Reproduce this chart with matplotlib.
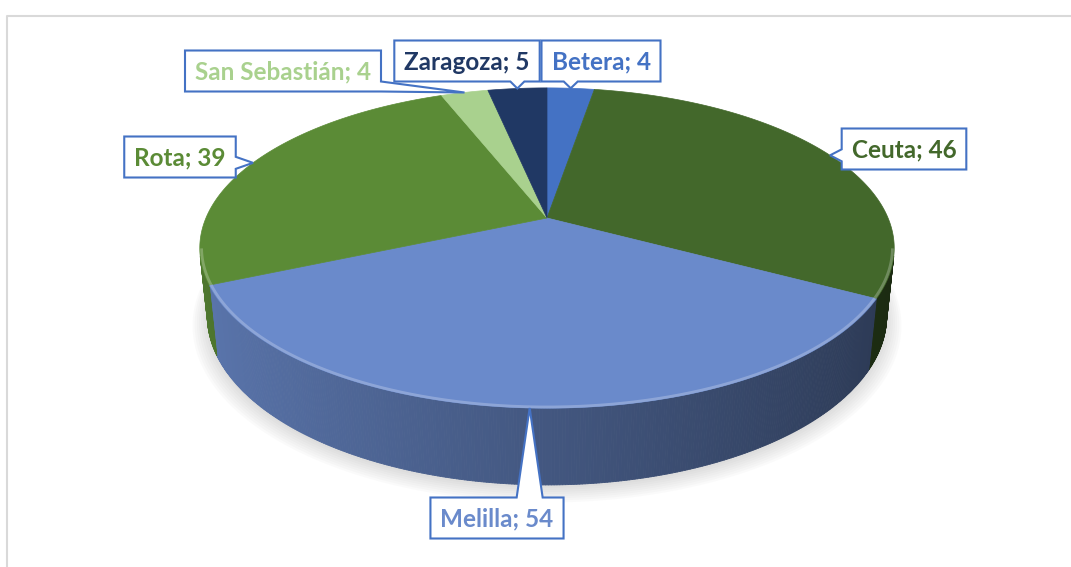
import numpy as np
import matplotlib.pyplot as plt
from matplotlib.patches import Polygon
from matplotlib.collections import PolyCollection
from matplotlib.colors import to_rgb

# data (clockwise from 12 o'clock)
locations = ['Betera', 'Ceuta', 'Melilla', 'Rota', 'San Sebastián', 'Zaragoza']
values = [4, 46, 54, 39, 4, 5]
slice_colors = ['#4472c4', '#43682b', '#6a8acb', '#5b8b36', '#a9d18e', '#203864']

# where the data-label boxes sit (pixel centres)
label_x = [601, 904, 497, 180, 283, 467]
label_y = [61, 149, 518, 157, 71, 61]
wedge_base = [14, 12, 26, 12, 10, 14]

W, H = 1071, 567
# 3D view of the pie: camera tilt, distance, focal length, centre, thickness
S, C = 0.453, 0.891
D, F = 4.75, 1620.0
CX, CY = 547.0, 218.0
THICK = 0.224
BORDER = '#4472c4'

fig = plt.figure(figsize=(W / 100, H / 100), dpi=100)
ax = fig.add_axes([0, 0, 1, 1])
ax.set_xlim(0, W)
ax.set_ylim(H, 0)
ax.axis('off')


def proj(theta, r=1.0, z=0.0):
    """project a point of the disc (angle clockwise from top) to pixels"""
    u = r * np.sin(theta)
    v = r * np.cos(theta)
    depth = D + v * C - z * S
    return CX + F * u / depth, CY - F * (v * S + z * C) / depth


def shade(col, f):
    return tuple(np.clip(np.array(to_rgb(col)) * f, 0, 1))


def lighten(col, f):
    c = np.array(to_rgb(col))
    return tuple(c + (1 - c) * f)


# chart area frame (runs off the picture right and bottom)
ax.plot([7, 7, W + 5], [H + 5, 16, 16], color='#d9d9d9', lw=1.5, zorder=0)

total = float(sum(values))
edges = np.concatenate([[0], np.cumsum(values)]) / total * 2 * np.pi

# soft shadow under the pie
tt = np.linspace(0, 2 * np.pi, 300)
for k in range(8):
    sx, sy = proj(tt, 1.0 + 0.006 * k, -THICK)
    ax.fill(sx, sy + 3 + k * 0.6, color='#888888', alpha=0.035, lw=0, zorder=1)

# visible part of the cylinder wall
vis = -1.0 / (D * C)
quads, qcols = [], []
for i in range(len(values)):
    t = np.linspace(edges[i], edges[i + 1], max(4, int(values[i] * 6)))
    for a, b in zip(t[:-1], t[1:]):
        m = 0.5 * (a + b)
        if np.cos(m) > vis:
            continue
        x0, y0 = proj(a)
        x1, y1 = proj(b)
        x2, y2 = proj(b, z=-THICK)
        x3, y3 = proj(a, z=-THICK)
        quads.append([(x0, y0), (x1, y1), (x2, y2), (x3, y3)])
        qcols.append(shade(slice_colors[i], 0.63 - 0.23 * np.sin(m)))
ax.add_collection(PolyCollection(quads, facecolors=qcols, edgecolors=qcols,
                                 linewidths=0.6, zorder=2))

# top faces
for i in range(len(values)):
    t = np.linspace(edges[i], edges[i + 1], max(4, int(values[i] * 6)))
    px, py = proj(t)
    pts = [(CX, CY)] + list(zip(px, py))
    ax.add_patch(Polygon(pts, closed=True, facecolor=slice_colors[i],
                         edgecolor=slice_colors[i], lw=0.5, zorder=3))
    # bevel highlight along the front rim
    front = t[np.cos(t) < vis + 0.05]
    if len(front) > 1:
        hx, hy = proj(front, r=0.995)
        ax.plot(hx, hy, color=lighten(slice_colors[i], 0.3), lw=2.0,
                alpha=0.8, solid_capstyle='butt', zorder=4)


def callout(x0, y0, x1, y1, tx, ty, b):
    if tx < x0:
        yc = np.clip(ty, y0 + b / 2, y1 - b / 2)
        return [(x0, y0), (x1, y0), (x1, y1), (x0, y1),
                (x0, yc + b / 2), (tx, ty), (x0, yc - b / 2)]
    if tx > x1:
        yc = np.clip(ty, y0 + b / 2, y1 - b / 2)
        return [(x0, y0), (x1, y0), (x1, yc - b / 2), (tx, ty),
                (x1, yc + b / 2), (x1, y1), (x0, y1)]
    xc = np.clip(tx, x0 + b / 2, x1 - b / 2)
    if ty < y0:
        return [(x0, y0), (xc - b / 2, y0), (tx, ty), (xc + b / 2, y0),
                (x1, y0), (x1, y1), (x0, y1)]
    return [(x0, y0), (x1, y0), (x1, y1), (xc + b / 2, y1), (tx, ty),
            (xc - b / 2, y1), (x0, y1)]


# data labels with callout boxes
fig.canvas.draw()
renderer = fig.canvas.get_renderer()
for i, name in enumerate(locations):
    txt = ax.text(label_x[i], label_y[i] + 1, f'{name}; {values[i]}',
                  ha='center', va='center', fontsize=17.5, fontweight='bold',
                  family=['Lato', 'DejaVu Sans'], color=slice_colors[i],
                  zorder=11)
    w = txt.get_window_extent(renderer).width
    bx0, bx1 = label_x[i] - w / 2 - 10, label_x[i] + w / 2 + 10
    by0, by1 = label_y[i] - 20.5, label_y[i] + 20.5
    mid = 0.5 * (edges[i] + edges[i + 1])
    tx, ty = proj(mid)
    ax.add_patch(Polygon(callout(bx0, by0, bx1, by1, tx, ty, wedge_base[i]),
                         closed=True, facecolor='white', edgecolor=BORDER,
                         lw=1.5, joinstyle='miter', zorder=10))

fig.savefig('out.png', dpi=100)
